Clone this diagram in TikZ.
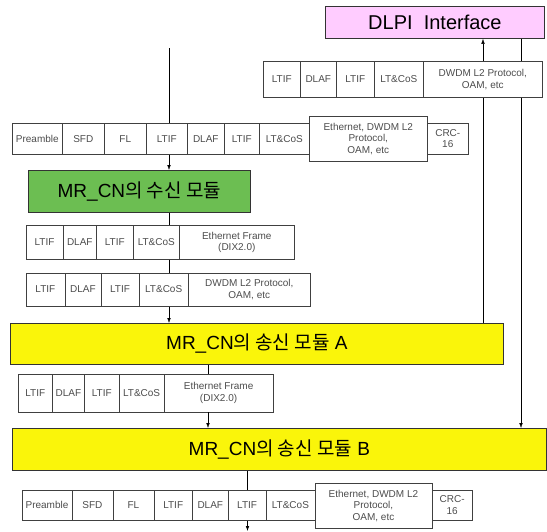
\documentclass[tikz,border=0pt]{standalone}
\usepackage{fontspec}
\setmainfont{Liberation Sans}
\newfontfamily\krfont{Noto Sans CJK KR}
\usetikzlibrary{arrows.meta}

\definecolor{dlpipink}{RGB}{255,204,255}
\definecolor{rxgreen}{RGB}{108,190,82}
\definecolor{txyellow}{RGB}{250,245,10}

\begin{document}
\begin{tikzpicture}[x=1pt,y=-1pt,
    cell/.style={draw=black!75, line width=0.6pt, rectangle, inner sep=0pt,
        anchor=north west, align=center, text=black!70,
        font=\fontsize{10}{11.5}\selectfont},
    module/.style={draw=black!80, line width=0.8pt, rectangle, inner sep=0pt,
        anchor=north west, font=\fontsize{19}{21}\selectfont},
    >={Latex[length=5pt,width=3.5pt]}]
\useasboundingbox (0,0) rectangle (547,531);

% modules
\node[module, fill=dlpipink, minimum width=219pt, minimum height=32pt,
    font=\fontsize{20}{22}\selectfont] (dlpi) at (325,6) {DLPI~ Interface};
\node[module, fill=rxgreen, minimum width=222pt, minimum height=42pt] (rx) at (28,170) {MR\_CN{\krfont 의 수신 모듈}};
\node[module, fill=txyellow, minimum width=493pt, minimum height=41pt] (txa) at (10,323) {MR\_CN{\krfont 의 송신 모듈} A};
\node[module, fill=txyellow, minimum width=534pt, minimum height=42pt] (txb) at (12,428) {MR\_CN{\krfont 의 송신 모듈} B};

% frame to DLPI
\foreach \a/\b/\t [count=\i] in {263/300/LTIF, 300/336/DLAF, 336/374/LTIF, 374/423/LT\&CoS,
    423/542/{DWDM L2 Protocol,\\OAM, etc}}
    {\node[cell, minimum width={(\b-\a)*1pt}, minimum height=36pt] (ft-\i) at (\a,61) {\t};}

% incoming frame
\foreach \a/\b/\t [count=\i] in {12/62/Preamble, 62/104/SFD, 104/146/FL, 146/187/LTIF,
    187/224/DLAF, 224/259/LTIF, 259/309/LT\&CoS}
    {\node[cell, minimum width={(\b-\a)*1pt}, minimum height=31pt] (fa-\i) at (\a,123) {\t};}
\node[cell, minimum width=118pt, minimum height=45pt] (fa-8) at (309,116) {Ethernet, DWDM L2\\Protocol,\\OAM, etc};
\node[cell, minimum width=41pt, minimum height=31pt] (fa-9) at (427,123) {CRC-\\16};

% after receive module
\foreach \a/\b/\t [count=\i] in {25.5/63/LTIF, 63/96/DLAF, 96/133/LTIF, 133/179/LT\&CoS,
    179/294/{Ethernet Frame\\(DIX2.0)}}
    {\node[cell, minimum width={(\b-\a)*1pt}, minimum height=34pt] (fb-\i) at (\a,225) {\t};}
\foreach \a/\b/\t [count=\i] in {25.5/64.7/LTIF, 64.7/100.7/DLAF, 100.7/138.8/LTIF, 138.8/188/LT\&CoS,
    188/310/{DWDM L2 Protocol,\\OAM, etc}}
    {\node[cell, minimum width={(\b-\a)*1pt}, minimum height=33.5pt] (fc-\i) at (\a,272.5) {\t};}

% between A and B
\foreach \a/\b/\t [count=\i] in {17.5/52.4/LTIF, 52.4/84/DLAF, 84/119/LTIF, 119/163.6/LT\&CoS,
    163.6/273/{Ethernet Frame\\(DIX2.0)}}
    {\node[cell, minimum width={(\b-\a)*1pt}, minimum height=38pt] (fd-\i) at (\a,373.5) {\t};}

% outgoing frame
\foreach \a/\b/\t [count=\i] in {21.7/71.7/Preamble, 71.7/112.5/SFD, 112.5/153.8/FL, 153.8/192/LTIF,
    192/228/DLAF, 228/265.6/LTIF, 265.6/314.6/LT\&CoS}
    {\node[cell, minimum width={(\b-\a)*1pt}, minimum height=30pt] (fe-\i) at (\a,490) {\t};}
\node[cell, minimum width=117.1pt, minimum height=45.5pt] (fe-8) at (314.6,482.5) {Ethernet, DWDM L2\\Protocol,\\OAM, etc};
\node[cell, minimum width=40.3pt, minimum height=30pt] (fe-9) at (431.7,490) {CRC-\\16};

% connectors
\coordinate (in) at (169,48);
\coordinate (mid) at (208,0);
\coordinate (out) at (247.5,531);
\coordinate (up) at (483,0);
\coordinate (down) at (521,0);

\draw (in) -- (in |- fa-4.north);
\draw[->] (in |- fa-4.south) -- (in |- rx.north);
\draw (in |- rx.south) -- (in |- fb-4.north);
\draw (in |- fb-4.south) -- (in |- fc-4.north);
\draw[->] (in |- fc-4.south) -- (in |- txa.north);
\draw (mid |- txa.south) -- (mid |- fd-5.north);
\draw[->] (mid |- fd-5.south) -- (mid |- txb.north);
\draw (out |- txb.south) -- (out |- fe-6.north);
\draw[->] (out |- fe-6.south) -- (out);

\draw (up |- txa.north) -- (up |- ft-5.south);
\draw[->] (up |- ft-5.north) -- (up |- dlpi.south);
\draw (down |- dlpi.south) -- (down |- ft-5.north);
\draw[->] (down |- ft-5.south) -- (down |- txb.north);
\end{tikzpicture}
\end{document}
